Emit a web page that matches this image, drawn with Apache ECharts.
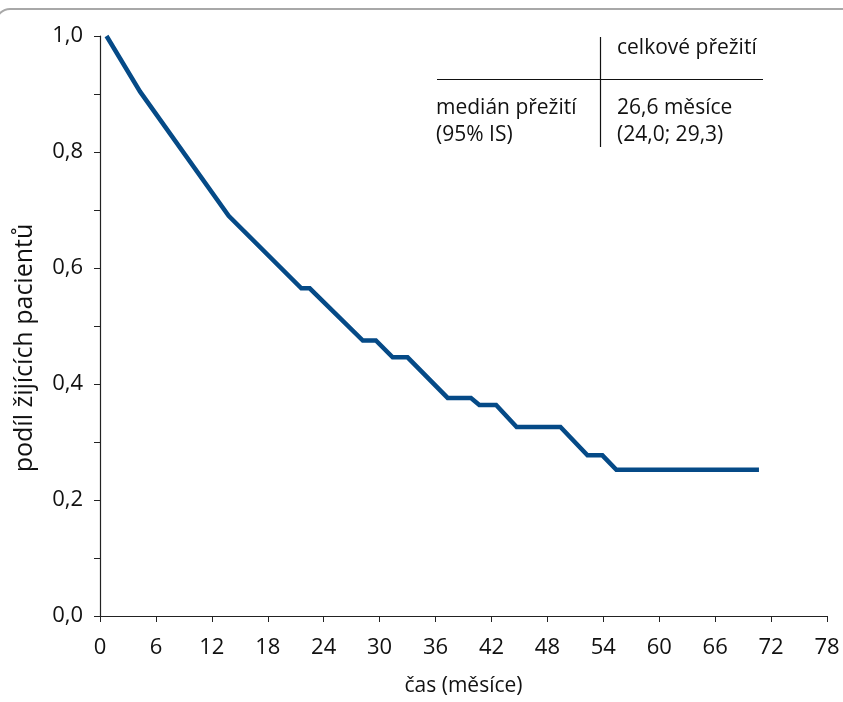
<!DOCTYPE html>
<html>
<head>
<meta charset="utf-8">
<script src="https://cdn.jsdelivr.net/npm/echarts@6/dist/echarts.min.js"></script>
<style>html,body{margin:0;padding:0;background:#fff}#c{width:843px;height:702px}</style>
</head>
<body>
<div id="c"></div>
<script>
// Kaplan-Meier curve
const months   = [0.7, 4.3, 13.8, 21.6, 22.5, 28.2, 29.6, 31.4, 33.0, 37.3, 39.8, 40.7, 42.5, 44.7, 49.4, 52.3, 53.9, 55.4, 70.7];
const survival = [1.0, 0.904, 0.69, 0.565, 0.565, 0.475, 0.475, 0.446, 0.446, 0.376, 0.376, 0.364, 0.364, 0.326, 0.326, 0.277, 0.277, 0.252, 0.252];
const xTicks = [0, 6, 12, 18, 24, 30, 36, 42, 48, 54, 60, 66, 72, 78];
const xName = 'čas (měsíce)';
const yName = 'podíl žijících pacientů';
const tableHeader = 'celkové přežití';
const tableRowLabel = ['medián přežití', '(95% IS)'];
const tableRowValue = ['26,6 měsíce', '(24,0; 29,3)'];

const FONT = '"Open Sans", sans-serif';
const FS = 22;
const TFS = 21;
const chart = echarts.init(document.getElementById('c'));
const seriesData = months.map((m, i) => [m, survival[i]]);

chart.setOption({
  animation: false,
  backgroundColor: '#fff',
  grid: { left: 100, right: 16, top: 36, bottom: 84, containLabel: false },
  xAxis: {
    type: 'value', min: xTicks[0], max: xTicks[xTicks.length - 1], interval: 6,
    name: xName, nameLocation: 'middle', nameGap: 60,
    nameTextStyle: { fontFamily: FONT, fontSize: 21, color: '#111' },
    axisLine: { show: true, onZero: false, lineStyle: { color: '#222', width: 1.2 } },
    axisTick: { show: true, length: 6, lineStyle: { color: '#222' } },
    axisLabel: { margin: 21, fontFamily: FONT, fontSize: FS, color: '#111' },
    splitLine: { show: false }
  },
  yAxis: {
    type: 'value', min: 0, max: 1, interval: 0.1,
    axisLine: { show: true, onZero: false, lineStyle: { color: '#222', width: 1.2 } },
    axisTick: { show: true, length: 6, lineStyle: { color: '#222' } },
    axisLabel: {
      margin: 17, fontFamily: FONT, fontSize: FS, color: '#111',
      formatter: v => (Math.round(v * 10) % 2 === 0) ? v.toFixed(1).replace('.', ',') : ''
    },
    splitLine: { show: false }
  },
  series: [{
    type: 'line', data: seriesData, showSymbol: false,
    lineStyle: { color: '#054a87', width: 4.5, join: 'miter' }
  }],
  graphic: [
    { type: 'rect', shape: { x: -4, y: 9, width: 900, height: 800, r: 14 }, style: { fill: null, stroke: '#a8a8a8', lineWidth: 2 }, silent: true },
    { type: 'text', x: 25, y: 348, rotation: Math.PI / 2, style: { text: yName, font: '25px ' + FONT, fill: '#111', align: 'center', verticalAlign: 'middle' } },
    { type: 'line', shape: { x1: 600.5, y1: 37, x2: 600.5, y2: 147 }, style: { stroke: '#111', lineWidth: 1.2 } },
    { type: 'line', shape: { x1: 437, y1: 79.5, x2: 763, y2: 79.5 }, style: { stroke: '#111', lineWidth: 1.2 } },
    { type: 'text', x: 617, y: 48, style: { text: tableHeader, font: TFS + 'px ' + FONT, fill: '#111', verticalAlign: 'middle' } },
    { type: 'text', x: 436, y: 108, style: { text: tableRowLabel[0], font: TFS + 'px ' + FONT, fill: '#111', verticalAlign: 'middle' } },
    { type: 'text', x: 436, y: 135, style: { text: tableRowLabel[1], font: TFS + 'px ' + FONT, fill: '#111', verticalAlign: 'middle' } },
    { type: 'text', x: 617, y: 108, style: { text: tableRowValue[0], font: TFS + 'px ' + FONT, fill: '#111', verticalAlign: 'middle' } },
    { type: 'text', x: 617, y: 135, style: { text: tableRowValue[1], font: TFS + 'px ' + FONT, fill: '#111', verticalAlign: 'middle' } }
  ]
});
</script>
</body>
</html>
